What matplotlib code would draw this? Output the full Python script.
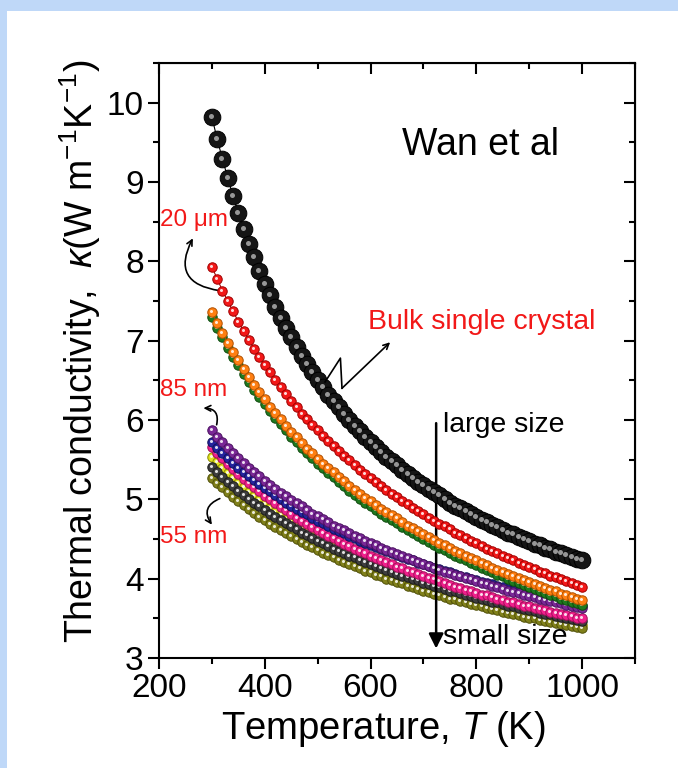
import numpy as np
import matplotlib
matplotlib.use('Agg')
import matplotlib.pyplot as plt
from matplotlib.ticker import MultipleLocator
from matplotlib.patches import Rectangle
from matplotlib.transforms import offset_copy

plt.rcParams['font.family'] = ['Liberation Sans', 'DejaVu Sans']
plt.rcParams['mathtext.fontset'] = 'custom'
plt.rcParams['mathtext.rm'] = 'Liberation Sans'
plt.rcParams['mathtext.it'] = 'Liberation Sans:italic'

# temperature grid (K), one reading every 10 K
T = np.arange(300, 1001, 10)

# kappa (W m^-1 K^-1)
k_bulk = [9.82, 9.54, 9.29, 9.05, 8.82, 8.61, 8.41, 8.22, 8.05, 7.88,
          7.72, 7.57, 7.43, 7.29, 7.16, 7.04, 6.92, 6.81, 6.71, 6.60,
          6.51, 6.41, 6.32, 6.24, 6.16, 6.08, 6.00, 5.93, 5.86, 5.79,
          5.72, 5.66, 5.60, 5.54, 5.48, 5.43, 5.37, 5.32, 5.27, 5.22,
          5.18, 5.13, 5.09, 5.05, 5.00, 4.96, 4.92, 4.89, 4.85, 4.81,
          4.78, 4.74, 4.71, 4.68, 4.65, 4.61, 4.58, 4.56, 4.53, 4.50,
          4.47, 4.44, 4.42, 4.39, 4.37, 4.34, 4.32, 4.30, 4.27, 4.25, 4.23]
k_20um = [7.93, 7.78, 7.63, 7.50, 7.37, 7.24, 7.12, 7.01, 6.90, 6.79,
          6.69, 6.60, 6.50, 6.41, 6.33, 6.24, 6.16, 6.08, 6.01, 5.94,
          5.87, 5.80, 5.73, 5.67, 5.61, 5.55, 5.49, 5.43, 5.37, 5.32,
          5.27, 5.22, 5.17, 5.12, 5.07, 5.03, 4.98, 4.94, 4.89, 4.85,
          4.81, 4.77, 4.73, 4.69, 4.66, 4.62, 4.58, 4.55, 4.51, 4.48,
          4.45, 4.41, 4.38, 4.35, 4.32, 4.29, 4.26, 4.23, 4.20, 4.17,
          4.15, 4.12, 4.09, 4.07, 4.04, 4.02, 3.99, 3.97, 3.94, 3.92, 3.90]
k_orange = [7.36, 7.22, 7.10, 6.97, 6.86, 6.75, 6.64, 6.54, 6.44, 6.35,
            6.26, 6.17, 6.09, 6.01, 5.93, 5.85, 5.78, 5.71, 5.64, 5.58,
            5.51, 5.45, 5.39, 5.34, 5.28, 5.23, 5.17, 5.12, 5.07, 5.02,
            4.98, 4.93, 4.88, 4.84, 4.80, 4.76, 4.71, 4.67, 4.64, 4.60,
            4.56, 4.52, 4.49, 4.45, 4.42, 4.39, 4.35, 4.32, 4.29, 4.26,
            4.23, 4.20, 4.17, 4.14, 4.11, 4.09, 4.06, 4.03, 4.01, 3.98,
            3.96, 3.93, 3.91, 3.88, 3.86, 3.84, 3.81, 3.79, 3.77, 3.75, 3.73]
k_green = [7.30, 7.16, 7.04, 6.91, 6.80, 6.69, 6.58, 6.48, 6.38, 6.29,
           6.20, 6.11, 6.03, 5.95, 5.87, 5.79, 5.72, 5.65, 5.58, 5.52,
           5.45, 5.39, 5.33, 5.28, 5.22, 5.17, 5.11, 5.06, 5.01, 4.96,
           4.92, 4.87, 4.82, 4.78, 4.74, 4.70, 4.65, 4.61, 4.58, 4.54,
           4.50, 4.46, 4.43, 4.39, 4.36, 4.33, 4.29, 4.26, 4.23, 4.20,
           4.17, 4.14, 4.11, 4.08, 4.05, 4.03, 4.00, 3.97, 3.95, 3.92,
           3.90, 3.87, 3.85, 3.82, 3.80, 3.78, 3.75, 3.73, 3.71, 3.69, 3.67]
k_purple = [5.87, 5.79, 5.72, 5.65, 5.58, 5.52, 5.46, 5.40, 5.34, 5.29,
            5.23, 5.18, 5.13, 5.08, 5.04, 4.99, 4.95, 4.91, 4.86, 4.82,
            4.79, 4.75, 4.71, 4.67, 4.64, 4.61, 4.57, 4.54, 4.51, 4.48,
            4.45, 4.42, 4.39, 4.36, 4.34, 4.31, 4.28, 4.26, 4.23, 4.21,
            4.18, 4.16, 4.14, 4.11, 4.09, 4.07, 4.05, 4.03, 4.01, 3.99,
            3.97, 3.95, 3.93, 3.91, 3.89, 3.87, 3.85, 3.83, 3.82, 3.80,
            3.78, 3.77, 3.75, 3.73, 3.72, 3.70, 3.69, 3.67, 3.66, 3.64, 3.63]
k_blue = [5.72, 5.65, 5.59, 5.52, 5.46, 5.40, 5.35, 5.29, 5.24, 5.19,
          5.14, 5.10, 5.05, 5.01, 4.96, 4.92, 4.88, 4.84, 4.81, 4.77,
          4.73, 4.70, 4.67, 4.63, 4.60, 4.57, 4.54, 4.51, 4.48, 4.45,
          4.43, 4.40, 4.37, 4.35, 4.32, 4.30, 4.27, 4.25, 4.23, 4.20,
          4.18, 4.16, 4.14, 4.12, 4.10, 4.08, 4.06, 4.04, 4.02, 4.00,
          3.98, 3.96, 3.94, 3.93, 3.91, 3.89, 3.87, 3.86, 3.84, 3.83,
          3.81, 3.79, 3.78, 3.76, 3.75, 3.73, 3.72, 3.71, 3.69, 3.68, 3.66]
k_pink = [5.66, 5.59, 5.52, 5.45, 5.38, 5.32, 5.26, 5.20, 5.15, 5.10,
          5.04, 5.00, 4.95, 4.90, 4.86, 4.81, 4.77, 4.73, 4.69, 4.65,
          4.61, 4.58, 4.54, 4.51, 4.47, 4.44, 4.41, 4.38, 4.35, 4.32,
          4.29, 4.26, 4.23, 4.21, 4.18, 4.15, 4.13, 4.10, 4.08, 4.06,
          4.03, 4.01, 3.99, 3.97, 3.94, 3.92, 3.90, 3.88, 3.86, 3.84,
          3.82, 3.80, 3.79, 3.77, 3.75, 3.73, 3.71, 3.70, 3.68, 3.66,
          3.65, 3.63, 3.62, 3.60, 3.58, 3.57, 3.55, 3.54, 3.53, 3.51, 3.50]
k_yellow = [5.54, 5.47, 5.40, 5.33, 5.27, 5.21, 5.15, 5.09, 5.04, 4.99,
            4.94, 4.89, 4.84, 4.80, 4.75, 4.71, 4.67, 4.63, 4.59, 4.55,
            4.52, 4.48, 4.45, 4.41, 4.38, 4.35, 4.32, 4.29, 4.26, 4.23,
            4.20, 4.17, 4.14, 4.12, 4.09, 4.07, 4.04, 4.02, 3.99, 3.97,
            3.95, 3.93, 3.90, 3.88, 3.86, 3.84, 3.82, 3.80, 3.78, 3.76,
            3.74, 3.72, 3.71, 3.69, 3.67, 3.65, 3.64, 3.62, 3.60, 3.59,
            3.57, 3.55, 3.54, 3.52, 3.51, 3.49, 3.48, 3.46, 3.45, 3.44, 3.42]
k_gray = [5.41, 5.34, 5.28, 5.22, 5.17, 5.11, 5.06, 5.01, 4.96, 4.91,
          4.86, 4.82, 4.78, 4.74, 4.70, 4.66, 4.62, 4.58, 4.55, 4.51,
          4.48, 4.45, 4.41, 4.38, 4.35, 4.32, 4.29, 4.27, 4.24, 4.21,
          4.19, 4.16, 4.14, 4.11, 4.09, 4.06, 4.04, 4.02, 4.00, 3.98,
          3.95, 3.93, 3.91, 3.89, 3.87, 3.85, 3.84, 3.82, 3.80, 3.78,
          3.76, 3.75, 3.73, 3.71, 3.70, 3.68, 3.66, 3.65, 3.63, 3.62,
          3.60, 3.59, 3.57, 3.56, 3.55, 3.53, 3.52, 3.50, 3.49, 3.48, 3.47]
k_olive = [5.27, 5.21, 5.15, 5.09, 5.03, 4.98, 4.93, 4.88, 4.83, 4.78,
           4.74, 4.69, 4.65, 4.61, 4.57, 4.54, 4.50, 4.46, 4.43, 4.40,
           4.36, 4.33, 4.30, 4.27, 4.24, 4.21, 4.18, 4.16, 4.13, 4.10,
           4.08, 4.05, 4.03, 4.00, 3.98, 3.96, 3.94, 3.91, 3.89, 3.87,
           3.85, 3.83, 3.81, 3.79, 3.77, 3.75, 3.74, 3.72, 3.70, 3.68,
           3.67, 3.65, 3.63, 3.62, 3.60, 3.58, 3.57, 3.55, 3.54, 3.52,
           3.51, 3.50, 3.48, 3.47, 3.45, 3.44, 3.43, 3.41, 3.40, 3.39, 3.38]

fig = plt.figure(figsize=(6.78, 7.68), dpi=100)
fig.patch.set_facecolor('#bfd8f8')
fig.add_artist(Rectangle((7/678, 0), 1, 1 - 11/768, transform=fig.transFigure,
                         facecolor='white', edgecolor='none', zorder=-10))
ax = fig.add_axes([0.2345, 0.1432, 0.7021, 0.7748])
ax.set_facecolor('white')

# little glint on each bead, nudged up-left
hl = offset_copy(ax.transData, fig=fig, x=-1.0, y=1.0, units='dots')

def beads(k, color, ms, edge, z, glint=0.32, gcol='white', galpha=0.85):
    ax.plot(T, k, '-', color=edge, lw=0.8, zorder=z)
    ax.plot(T, k, 'o', ms=ms, mfc=color, mec=edge, mew=0.7, zorder=z)
    ax.plot(T, k, 'o', ms=ms * glint, mfc=gcol, mec='none', alpha=galpha,
            transform=hl, zorder=z + 0.1)

beads(k_yellow, '#e0e020', 6.8, '#8a8a00', 1.8)
beads(k_olive, '#80801a', 6.8, '#505008', 2)
beads(k_gray, '#3e3e3e', 6.8, '#1c1c1c', 2.2)
beads(k_pink, '#f0208c', 6.8, '#a0105a', 2.6)
beads(k_blue, '#24249e', 6.8, '#10105a', 2.8)
beads(k_purple, '#7a2896', 6.8, '#4a1060', 3.0)
beads(k_green, '#1f7a1f', 6.8, '#0e4a0e', 3.2)
beads(k_orange, '#ff7f12', 6.8, '#b05000', 3.4)
beads(k_20um, '#f21818', 6.8, '#a00000', 3.6)
beads(k_bulk, '#151515', 12, '#000000', 4, glint=0.3, gcol='#d0d0d0', galpha=0.7)

ax.set_xlim(200, 1100)
ax.set_ylim(3, 10.5)
ax.xaxis.set_major_locator(MultipleLocator(200))
ax.xaxis.set_minor_locator(MultipleLocator(100))
ax.yaxis.set_major_locator(MultipleLocator(1))
ax.yaxis.set_minor_locator(MultipleLocator(0.5))
ax.tick_params(which='both', direction='out', width=1.5, labelsize=24, pad=3)
ax.tick_params(which='major', length=8)
ax.tick_params(which='minor', length=4.5)
for s in ax.spines.values():
    s.set_linewidth(1.5)

top = ax.secondary_xaxis('top')
top.xaxis.set_major_locator(MultipleLocator(200))
top.xaxis.set_minor_locator(MultipleLocator(100))
top.tick_params(which='both', direction='in', width=1.5, labeltop=False)
top.tick_params(which='major', length=8)
top.tick_params(which='minor', length=4.5)
right = ax.secondary_yaxis('right')
right.yaxis.set_major_locator(MultipleLocator(1))
right.yaxis.set_minor_locator(MultipleLocator(0.5))
right.tick_params(which='both', direction='in', width=1.5, labelright=False)
right.tick_params(which='major', length=8)
right.tick_params(which='minor', length=4.5)

ax.set_xlabel('Temperature, $T$ (K)', fontsize=27.5)
ax.xaxis.set_label_coords(0.472, -0.085)
ax.set_ylabel('Thermal conductivity,  $\\kappa$(W m$^{-1}$K$^{-1}$)', fontsize=27)
ax.yaxis.set_label_coords(-0.118, 0.515)

ax.text(808, 9.46, 'Wan et al', fontsize=27, ha='center', va='center')
ax.text(810, 7.23, 'Bulk single crystal', fontsize=20.5, color='#f21818', ha='center', va='center')
ax.text(737, 5.94, 'large size', fontsize=20.5, ha='left', va='center')
ax.text(737, 3.26, 'small size', fontsize=20.5, ha='left', va='center')
ax.text(202, 8.52, '20 μm', fontsize=17.5, color='#f21818', ha='left', va='center')
ax.text(202, 6.38, '85 nm', fontsize=17.5, color='#f21818', ha='left', va='center')
ax.text(202, 4.53, '55 nm', fontsize=17.5, color='#f21818', ha='left', va='center')

# size arrow
ax.annotate('', xy=(724, 3.12), xytext=(724, 5.96),
            arrowprops=dict(arrowstyle='-|>', lw=1.8, color='black',
                            mutation_scale=22, shrinkA=0, shrinkB=0))
# pointers from labels to curves
ax.annotate('', xy=(264, 8.29), xytext=(315, 7.63),
            arrowprops=dict(arrowstyle='->', lw=1.2, color='black',
                            shrinkA=0, shrinkB=0,
                            connectionstyle='arc3,rad=-0.7'))
ax.annotate('', xy=(284, 6.15), xytext=(309, 5.94),
            arrowprops=dict(arrowstyle='->', lw=1.2, color='black',
                            shrinkA=0, shrinkB=0,
                            connectionstyle='arc3,rad=0.6'))
ax.annotate('', xy=(300, 4.68), xytext=(315, 5.01),
            arrowprops=dict(arrowstyle='->', lw=1.2, color='black',
                            shrinkA=0, shrinkB=0,
                            connectionstyle='arc3,rad=0.6'))
ax.plot([514, 543, 546], [6.48, 6.78, 6.40], color='black', lw=1.2, zorder=5)
ax.annotate('', xy=(637, 6.98), xytext=(546, 6.40),
            arrowprops=dict(arrowstyle='->', lw=1.2, color='black',
                            shrinkA=0, shrinkB=0))

fig.savefig('out.png', dpi=100, facecolor=fig.get_facecolor())
